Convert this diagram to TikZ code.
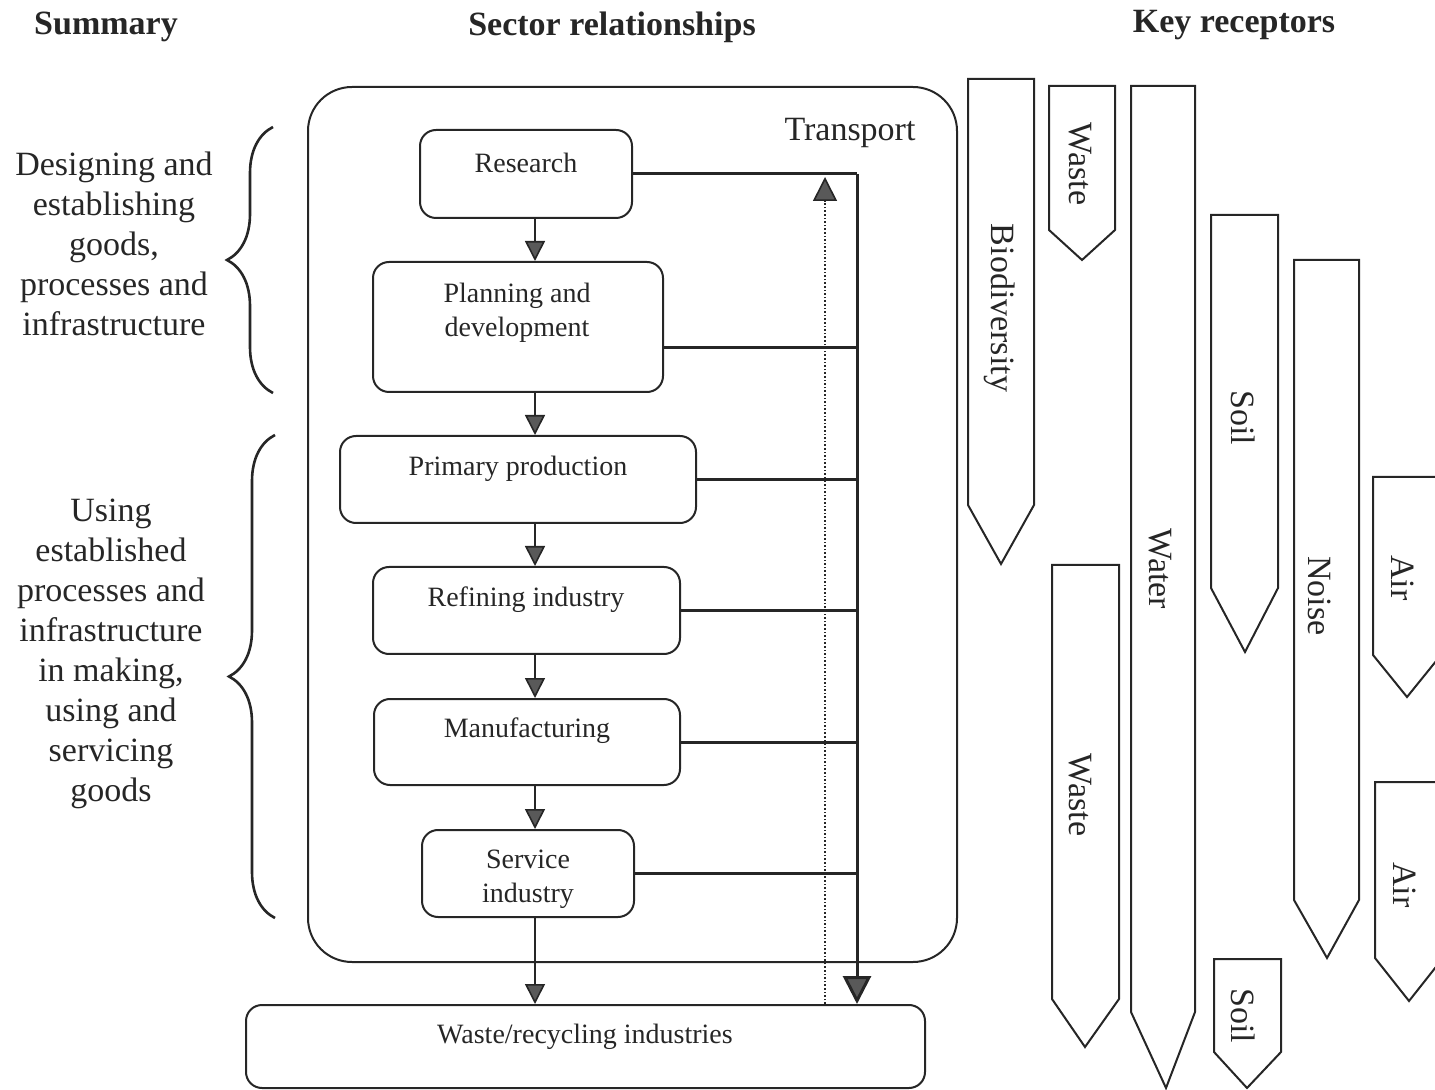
\documentclass[tikz,border=0pt]{standalone}
\usepackage{fontspec}
\setmainfont{Liberation Serif}
\usetikzlibrary{arrows.meta,decorations.pathreplacing,calc}
\definecolor{ink}{gray}{0.15}
\definecolor{tipgray}{gray}{0.35}
\begin{document}
\begin{tikzpicture}[x=0.5pt,y=-0.5pt,
  box/.style={draw=ink, line width=1pt, rounded corners=8pt, inner sep=0pt},
  frame/.style={draw=ink, line width=1pt, rounded corners=22pt, inner sep=0pt},
  lab/.style={font=\fontsize{14}{17}\selectfont, text=ink, align=center, inner sep=0pt},
  side/.style={font=\fontsize{17}{20}\selectfont, text=ink, align=center, inner sep=0pt},
  head/.style={font=\bfseries\fontsize{17}{20}\selectfont, text=ink, inner sep=0pt},
  rec/.style={draw=ink, line width=1pt, line join=miter},
  rlab/.style={font=\fontsize{17}{20}\selectfont, text=ink, rotate=-90, inner sep=0pt},
  flow/.style={draw=ink, line width=0.8pt, -{Triangle[length=10pt,width=10pt,fill=tipgray]}},
  trunk/.style={draw=ink, line width=1.5pt},
  bigflow/.style={draw=ink, line width=1.5pt, -{Triangle[length=14pt,width=14pt,fill=tipgray]}},
  dotflow/.style={draw=ink, line width=0.8pt, densely dotted, -{Triangle[length=12pt,width=12pt,fill=tipgray]}},
  curly/.style={draw=ink, line width=1.3pt, decorate, decoration={brace, amplitude=23pt}}
]
\useasboundingbox (0,0) rectangle (1435,1090);

% headings
\node[head] (hsum) at (106,27) {Summary};
\node[head] (hsec) at (612,27) {Sector relationships};
\node[head] (hkey) at (1234,25) {Key receptors};

% left side
\node[side] (design) at (114,244) {Designing and\\establishing\\goods,\\processes and\\infrastructure};
\node[side] (using) at (111,654) {Using\\established\\processes and\\infrastructure\\in making,\\using and\\servicing\\goods};
\draw[curly] (273,393) -- (273,127);
\draw[curly] (275,918) -- (275,435);

% transport frame
\node[frame, minimum width=324.5pt, minimum height=437.5pt] (transport) at (632.5,524.5) {};
\node[side] (translab) at (850,133) {Transport};

% sector boxes
\node[box, minimum width=106pt, minimum height=44pt] (research) at (526,174) {};
\node[lab] (researchlab) at (526,163) {Research};
\node[box, minimum width=145pt, minimum height=65pt] (planning) at (518,327) {};
\node[lab] (planninglab) at (517,313) {Planning and\\development};
\node[box, minimum width=178pt, minimum height=43.5pt] (primary) at (518,479.5) {};
\node[lab] (primarylab) at (518,469) {Primary production};
\node[box, minimum width=153.5pt, minimum height=43.5pt] (refining) at (526.5,610.5) {};
\node[lab] (refininglab) at (526,600) {Refining industry};
\node[box, minimum width=153pt, minimum height=43pt] (manuf) at (527,742) {};
\node[lab] (manuflab) at (527,731) {Manufacturing};
\node[box, minimum width=106pt, minimum height=43.5pt] (service) at (528,873.5) {};
\node[lab] (servicelab) at (528,879) {Service\\industry};
\node[box, minimum width=339.5pt, minimum height=41.5pt] (waste) at (585.5,1046.5) {};
\node[lab] (wastelab) at (585,1037) {Waste/recycling industries};

% flow arrows between boxes
\coordinate (ax) at (535,0);
\draw[flow] (research.south -| ax) -- (planning.north -| ax);
\draw[flow] (planning.south -| ax) -- (primary.north -| ax);
\draw[flow] (primary.south -| ax) -- (refining.north -| ax);
\draw[flow] (refining.south -| ax) -- (manuf.north -| ax);
\draw[flow] (manuf.south -| ax) -- (service.north -| ax);
\draw[flow] (service.south -| ax) -- (waste.north -| ax);

% transport trunk
\coordinate (tx) at (857,0);
\coordinate (ttop) at (857,174);
\coordinate (plout) at ($(planning.east)+(0,21)$);
\draw[trunk] (research.east) -- (ttop);
\draw[bigflow] (ttop) -- (waste.north -| tx);
\draw[trunk] (plout) -- (plout -| tx);
\draw[trunk] (primary.east) -- (primary.east -| tx);
\draw[trunk] (refining.east) -- (refining.east -| tx);
\draw[trunk] (manuf.east) -- (manuf.east -| tx);
\draw[trunk] (service.east) -- (service.east -| tx);

% dotted return arrow
\coordinate (dx) at (825,0);
\coordinate (dtop) at (825,177);
\draw[dotflow] (waste.north -| dx) -- (dtop);

% receptors
\draw[rec] (968,79) -- (1034,79) -- (1034,505) -- (1001,564) -- (968,505) -- cycle;
\node[rlab] (bio) at (1000,308) {Biodiversity};
\draw[rec] (1049,86) -- (1115,86) -- (1115,230) -- (1082,260) -- (1049,230) -- cycle;
\node[rlab] (wastea) at (1080,164) {Waste};
\draw[rec] (1131,86) -- (1195,86) -- (1195,1012) -- (1166,1088) -- (1131,1012) -- cycle;
\node[rlab] (water) at (1160,569) {Water};
\draw[rec] (1211,215) -- (1278,215) -- (1278,588) -- (1245,652) -- (1211,588) -- cycle;
\node[rlab] (soila) at (1243,418) {Soil};
\draw[rec] (1294,260) -- (1359,260) -- (1359,900) -- (1327,958) -- (1294,900) -- cycle;
\node[rlab] (noise) at (1320,596) {Noise};
\draw[rec] (1373,477) -- (1441,477) -- (1441,655) -- (1407,697) -- (1373,655) -- cycle;
\node[rlab] (aira) at (1403,578) {Air};
\draw[rec] (1375,782) -- (1443,782) -- (1443,958) -- (1409,1001) -- (1375,958) -- cycle;
\node[rlab] (airb) at (1405,885) {Air};
\draw[rec] (1052,565) -- (1119,565) -- (1119,999) -- (1085,1047) -- (1052,999) -- cycle;
\node[rlab] (wasteb) at (1080,795) {Waste};
\draw[rec] (1214,959) -- (1281,959) -- (1281,1052) -- (1247,1088) -- (1214,1052) -- cycle;
\node[rlab] (soilb) at (1243,1016) {Soil};
\end{tikzpicture}
\end{document}
